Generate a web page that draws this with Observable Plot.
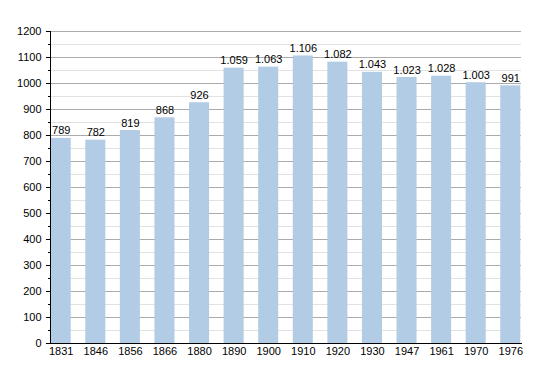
<!DOCTYPE html>
<html>
<head>
<meta charset="utf-8">
<script src="https://cdn.jsdelivr.net/npm/d3@7"></script>
<script src="https://cdn.jsdelivr.net/npm/@observablehq/plot@0.6"></script>
<style>
  html, body { margin: 0; padding: 0; background: #fff; }
  svg { display: block; }
</style>
</head>
<body>
<div id="chart"></div>
<script>
const years = ["1831","1846","1856","1866","1880","1890","1900","1910","1920","1930","1947","1961","1970","1976"];
const population = [789, 782, 819, 868, 926, 1059, 1063, 1106, 1082, 1043, 1023, 1028, 1003, 991];
const majorTicks = [0,100,200,300,400,500,600,700,800,900,1000,1100,1200];
const minorTicks = [50,150,250,350,450,550,650,750,850,950,1050,1150];

const data = years.map((y, i) => ({year: y, pop: population[i]}));
const fmt = d3.formatLocale({decimal: ",", thousands: ".", grouping: [3], currency: ["", ""]}).format(",d");

const chart = Plot.plot({
  width: 550,
  height: 373,
  marginLeft: 50,
  marginRight: 29,
  marginTop: 31,
  marginBottom: 30,
  style: {fontFamily: "'Liberation Sans', Arial, sans-serif", fontSize: "11px", color: "#000", background: "#fff"},
  x: {domain: years, paddingInner: 0.42, paddingOuter: 0.02, round: false, label: null},
  y: {domain: [0, 1200], label: null},
  marks: [
    Plot.ruleY(minorTicks, {stroke: "#e2e2e2", strokeWidth: 1}),
    Plot.ruleY(majorTicks, {stroke: "#ababab", strokeWidth: 1}),
    Plot.barY(data, {x: "year", y: "pop", fill: "#b2cce6"}),
    Plot.text(data, {x: "year", y: "pop", text: d => fmt(d.pop), lineAnchor: "bottom", dy: -4, fill: "#000", fontSize: 11}),
    Plot.axisY({ticks: minorTicks, tickSize: 2, text: null, stroke: "#000"}),
    Plot.axisY({ticks: majorTicks, tickSize: 4, tickPadding: 5, tickFormat: "d", stroke: "#000", fill: "#000", fontSize: 11}),
    Plot.axisX({tickSize: 0, tickPadding: 4, fill: "#000", fontSize: 11}),
    Plot.frame({anchor: "left", stroke: "#000"}),
    Plot.frame({anchor: "bottom", stroke: "#000"})
  ]
});
document.getElementById("chart").appendChild(chart);
</script>
</body>
</html>
